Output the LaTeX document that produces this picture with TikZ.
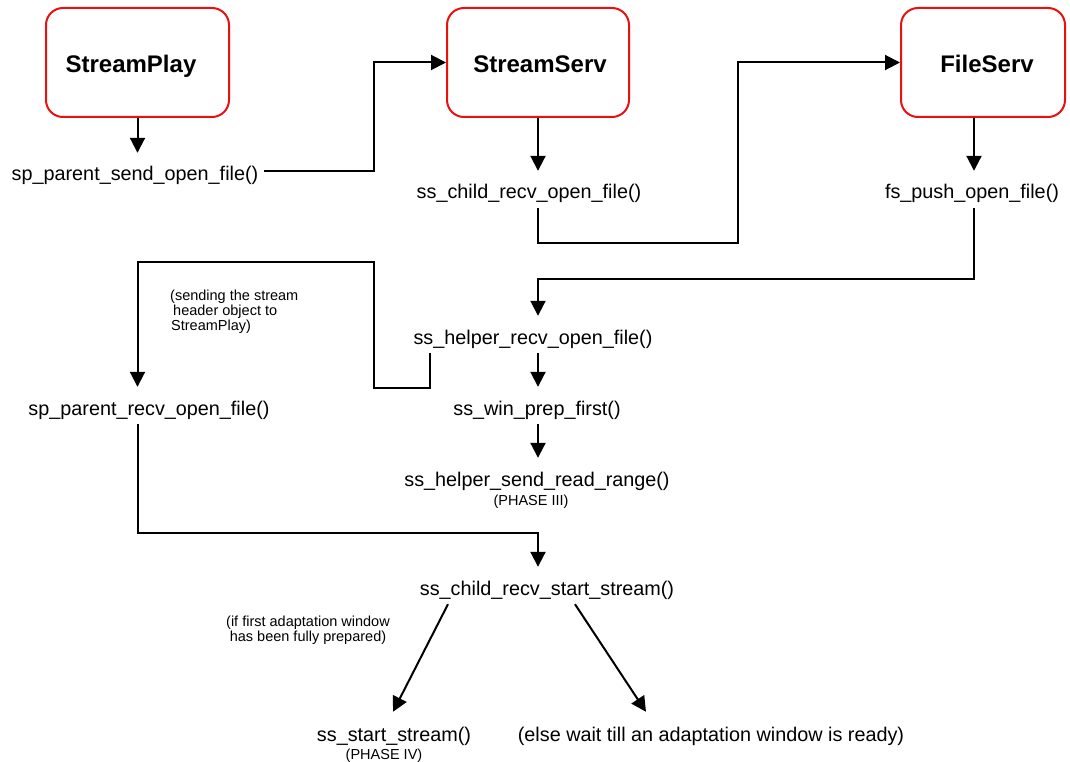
\documentclass[tikz,border=0pt]{standalone}
\usepackage{fontspec}
\setmainfont{Liberation Sans}
\usetikzlibrary{arrows.meta}

\definecolor{procred}{RGB}{235,16,16}

\begin{document}
\begin{tikzpicture}[x=1pt,y=-1pt,
  proc/.style={draw=procred,line width=2pt,rounded corners=17pt,
    minimum height=109pt,inner sep=0pt,font=\fontsize{24}{28}\selectfont\bfseries},
  call/.style={inner xsep=6pt,inner ysep=0pt,text height=28pt,text depth=9pt,
    anchor=base,font=\fontsize{19.8}{22}\selectfont},
  note/.style={inner sep=0pt,font=\fontsize{14.5}{15}\selectfont},
  arr/.style={line width=2pt,-{Triangle[length=15pt,width=15pt]}},
  wire/.style={line width=2pt}]

\fill[white] (0,0) rectangle (1070,762);
\useasboundingbox (0,0) rectangle (1070,762);

% processes (titles set on a baseline a little below the box centre)
\node[proc,minimum width=183pt] (sp) at (137.5,62.5) {\hspace*{-13pt}\raisebox{-10pt}[0pt][0pt]{StreamPlay}};
\node[proc,minimum width=182pt] (ss) at (538,62.5) {\hspace*{4pt}\raisebox{-10pt}[0pt][0pt]{StreamServ}};
\node[proc,minimum width=164pt] (fs) at (983,62.5) {\hspace*{8pt}\raisebox{-10pt}[0pt][0pt]{FileServ}};

% function calls
\node[call] (spsend)   at (135,181) {sp\_parent\_send\_open\_file()};
\node[call] (sschild)  at (529,199) {ss\_child\_recv\_open\_file()};
\node[call] (fspush)   at (972,199) {fs\_push\_open\_file()};
\node[call] (sshelper) at (533,344) {ss\_helper\_recv\_open\_file()};
\node[call] (sprecv)   at (149,415) {sp\_parent\_recv\_open\_file()};
\node[call] (sswin)    at (537,415) {ss\_win\_prep\_first()};
\node[call] (ssread)   at (537,486) {ss\_helper\_send\_read\_range()};
\node[call] (sscstart) at (547,595) {ss\_child\_recv\_start\_stream()};
\node[call] (ssstart)  at (394,741) {ss\_start\_stream()};
\node[call] (elsewait) at (711,741) {(else wait till an adaptation window is ready)};

% annotations
\node[note,anchor=base] (ph3) at (531,505) {(PHASE III)};
\node[note,anchor=base] (ph4) at (384,759) {(PHASE IV)};
\node[note,anchor=north west,align=left] (hdr) at (170,290)
  {(sending the stream\\ \hspace*{3pt}header object to\\ \hspace*{1pt}StreamPlay)};
\node[note,anchor=north,align=center] (cond) at (308,616)
  {(if first adaptation window\\ has been fully prepared)};

% routing corners
\coordinate (colC) at (974,0);
\coordinate (k1) at (374,62.5);
\coordinate (k2) at (738,243);
\coordinate (k3) at (538,279);
\coordinate (k4) at (374,388);
\coordinate (k5) at (374,262);
\coordinate (k6) at (538,533);

% connectors
\draw[arr] (sp.south) -- (sp.south |- spsend.north);
\draw[arr] (spsend.east) -| (k1) -- (ss.west);
\draw[arr] (ss.south) -- (ss.south |- sschild.north);
\draw[arr] (ss.south |- sschild.south) |- (k2) |- (fs.west);
\draw[arr] (colC |- fs.south) -- (colC |- fspush.north);
\draw[arr] (colC |- fspush.south) |- (k3) -- (k3 |- sshelper.north);
\draw[arr] ([xshift=-103pt]sshelper.south) |- (k4) -- (k5) -| (sp.south |- sprecv.north);
\draw[arr] (ss.south |- sshelper.south) -- (ss.south |- sswin.north);
\draw[arr] (ss.south |- sswin.south) -- (ss.south |- ssread.north);
\draw[arr] (sp.south |- sprecv.south) |- (k6) -- (k6 |- sscstart.north);
\draw[arr] ([xshift=-99pt]sscstart.south) -- ([xshift=-1pt,yshift=1pt]ssstart.north);
\draw[arr] ([xshift=28pt]sscstart.south) -- ([xshift=-65pt,yshift=1pt]elsewait.north);

\end{tikzpicture}
\end{document}
